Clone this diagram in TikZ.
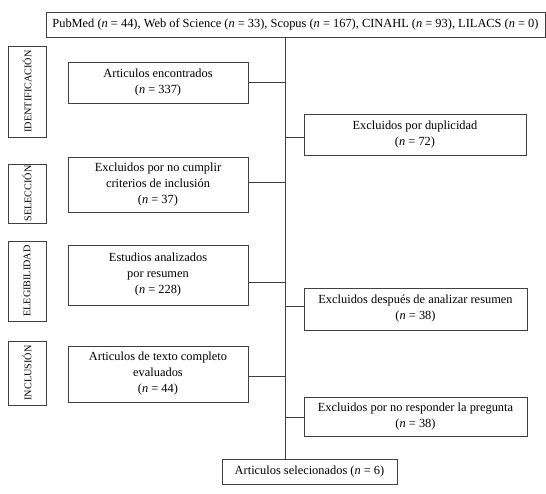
\documentclass[tikz,border=0pt]{standalone}
\usepackage{fontspec}
\setmainfont{Liberation Serif}
\usetikzlibrary{calc}
\begin{document}
\begin{tikzpicture}[x=1pt,y=-1pt,
  box/.style={draw=black!75, line width=0.7pt, inner sep=0pt, align=center,
    font=\fontsize{12.4}{16}\selectfont},
  side/.style={draw=black!75, line width=0.7pt, inner sep=0pt},
  side label/.style={rotate=90, inner sep=0pt, font=\fontsize{10.2}{11}\selectfont},
  conn/.style={draw=black!75, line width=0.7pt}]
\useasboundingbox (0,0) rectangle (546,494);
% top
\node[box, minimum width=499pt, minimum height=25pt] (top) at (295.5,24.5)
  {PubMed (\textit{n} = 44), Web of Science (\textit{n} = 33), Scopus (\textit{n} = 167), CINAHL (\textit{n} = 93), LILACS (\textit{n} = 0)};
% side boxes
\node[side, minimum width=38pt, minimum height=91pt] (s1) at (27,91.5) {};
\node[side label] (l1) at (s1.center) {IDENTIFICACIÓN};
\node[side, minimum width=38pt, minimum height=59pt] (s2) at (27,193.5) {};
\node[side label] (l2) at (s2.center) {SELECCIÓN};
\node[side, minimum width=38pt, minimum height=80pt] (s3) at (27,281) {};
\node[side label] (l3) at (s3.center) {ELEGIBILIDAD};
\node[side, minimum width=38pt, minimum height=64pt] (s4) at (27,373) {};
\node[side label] (l4) at (s4.center) {INCLUSIÓN};
% left boxes
\node[box, minimum width=180pt, minimum height=41pt] (enc) at (158,82.5)
  {Articulos encontrados\\(\textit{n} = 337)};
\node[box, minimum width=180pt, minimum height=55pt] (exs) at (158,184.5)
  {Excluidos por no cumplir\\criterios de inclusión\\(\textit{n} = 37)};
\node[box, minimum width=180pt, minimum height=60pt] (est) at (158,275)
  {Estudios analizados\\por resumen\\(\textit{n} = 228)};
\node[box, minimum width=180pt, minimum height=56pt] (txt) at (158,374)
  {Articulos de texto completo\\evaluados\\(\textit{n} = 44)};
% right boxes
\node[box, minimum width=222pt, minimum height=41pt] (dup) at (415,134.5)
  {Excluidos por duplicidad\\(\textit{n} = 72)};
\node[box, minimum width=223pt, minimum height=42pt] (res) at (415.5,309)
  {Excluidos después de analizar resumen\\(\textit{n} = 38)};
\node[box, minimum width=223pt, minimum height=39pt] (pre) at (415.5,416.5)
  {Excluidos por no responder la pregunta\\(\textit{n} = 38)};
% final
\node[box, minimum width=175pt, minimum height=25pt] (fin) at (309.5,471.5)
  {Articulos selecionados (\textit{n} = 6)};
% spine
\coordinate (sp) at (285,0);
\draw[conn] (sp |- top.south) -- (sp |- fin.north);
% connectors
\coordinate (c1) at ($(enc.north east)!0.5!(enc.south east)$);
\coordinate (c2) at ($(exs.north east)!0.47!(exs.south east)$);
\coordinate (c3) at ($(est.north east)!0.62!(est.south east)$);
\coordinate (c4) at ($(txt.north east)!0.55!(txt.south east)$);
\coordinate (d1) at ($(dup.north west)!0.56!(dup.south west)$);
\coordinate (d2) at ($(res.north west)!0.43!(res.south west)$);
\coordinate (d3) at ($(pre.north west)!0.51!(pre.south west)$);
\foreach \c in {c1,c2,c3,c4,d1,d2,d3} { \draw[conn] (\c) -- (sp |- \c); }
\end{tikzpicture}
\end{document}
